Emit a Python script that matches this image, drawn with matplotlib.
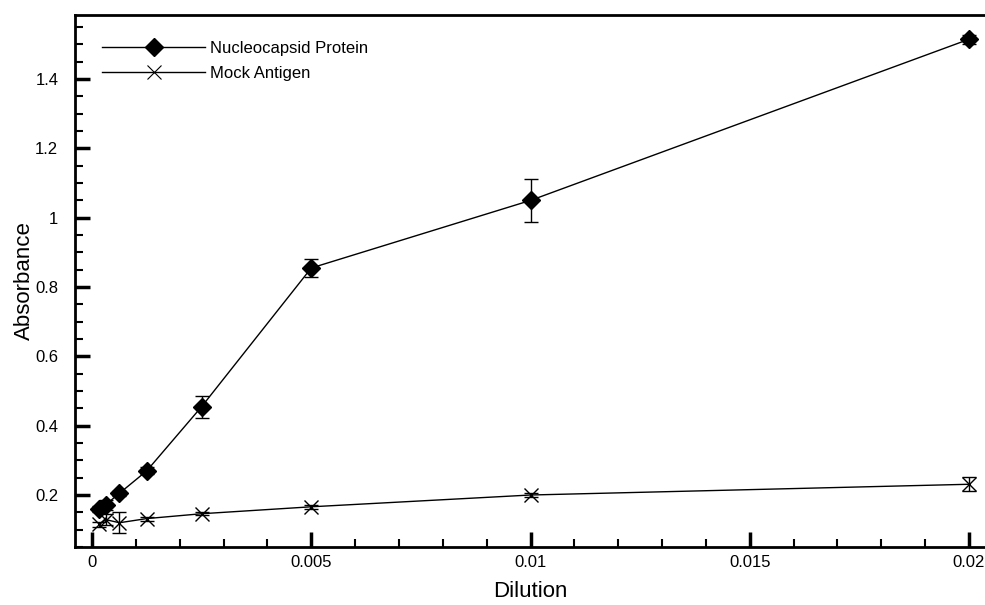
import matplotlib
matplotlib.use("Agg")
import matplotlib.pyplot as plt
from matplotlib.lines import Line2D
from matplotlib.ticker import MultipleLocator, FuncFormatter

plt.rcParams['font.family'] = ['Liberation Sans', 'DejaVu Sans']

# dilution series (1/6400 ... 1/50)
dilution = [1/6400, 1/3200, 1/1600, 1/800, 1/400, 1/200, 1/100, 1/50]

nucleo = [0.160, 0.172, 0.205, 0.270, 0.455, 0.855, 1.050, 1.515]
nucleo_err = [0.008, 0.015, 0.008, 0.010, 0.032, 0.027, 0.063, 0.013]

mock = [0.115, 0.129, 0.120, 0.132, 0.146, 0.166, 0.200, 0.231]
mock_err = [0.006, 0.016, 0.030, 0.006, 0.005, 0.006, 0.005, 0.020]

fig = plt.figure(figsize=(9.85, 6.05), dpi=100)
ax = fig.add_axes([75/985, 58/605, 910/985, 532/605])

ax.errorbar(dilution, nucleo, yerr=nucleo_err, color='black', lw=1,
            marker='D', ms=9, capsize=5, elinewidth=1, capthick=1)
ax.errorbar(dilution, mock, yerr=mock_err, color='black', lw=1,
            marker='x', ms=10, mew=1, capsize=5, elinewidth=1, capthick=1)

ax.set_xlim(-0.000388, 0.020365)
ax.set_ylim(0.05, 1.585)

ax.xaxis.set_major_locator(MultipleLocator(0.005))
ax.xaxis.set_minor_locator(MultipleLocator(0.001))
ax.yaxis.set_major_locator(MultipleLocator(0.2))
ax.yaxis.set_minor_locator(MultipleLocator(0.05))
fmt = FuncFormatter(lambda v, p: '{:g}'.format(round(v, 6)))
ax.xaxis.set_major_formatter(fmt)
ax.yaxis.set_major_formatter(fmt)

ax.tick_params(which='both', direction='in', labelsize=12, width=1.5)
ax.tick_params(which='major', length=11, width=2.5, pad=6)
ax.tick_params(which='minor', length=6)
ax.tick_params(axis='y', which='major', pad=12)

for s in ['left', 'bottom', 'top']:
    ax.spines[s].set_linewidth(2)
ax.spines['right'].set_visible(False)

ax.set_xlabel('Dilution', fontsize=16, labelpad=8)
ax.set_ylabel('Absorbance', fontsize=16, labelpad=0)

handles = [
    Line2D([], [], color='black', lw=1, marker='D', ms=9),
    Line2D([], [], color='black', lw=1, marker='x', ms=10, mew=0.8),
]
ax.legend(handles, ['Nucleocapsid Protein', 'Mock Antigen'],
          loc='upper left', frameon=False, fontsize=12, handlelength=6.2,
          handletextpad=0.3, labelspacing=0.6, borderpad=0, borderaxespad=0,
          bbox_to_anchor=(0.0297, 0.951))

fig.savefig('out.png', dpi=100)
